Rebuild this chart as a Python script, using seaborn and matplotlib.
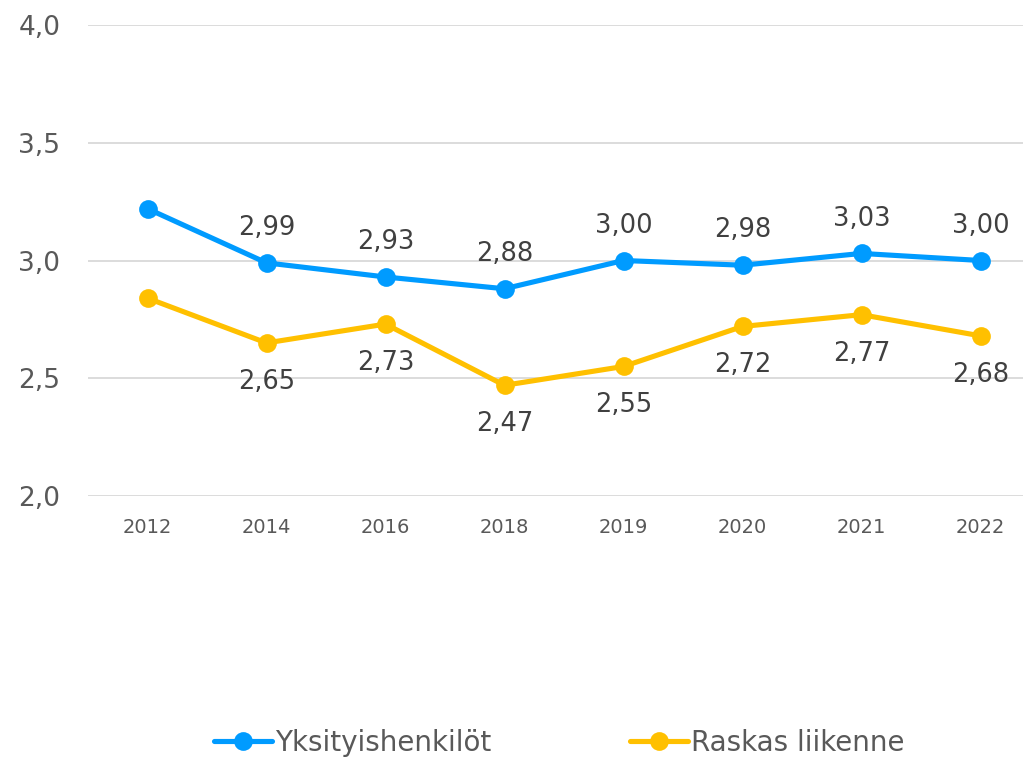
import pandas as pd
import matplotlib.pyplot as plt
import seaborn as sns
from matplotlib.ticker import FuncFormatter

years = ['2012', '2014', '2016', '2018', '2019', '2020', '2021', '2022']
yksityis = [3.22, 2.99, 2.93, 2.88, 3.00, 2.98, 3.03, 3.00]
raskas = [2.84, 2.65, 2.73, 2.47, 2.55, 2.72, 2.77, 2.68]
series_names = ['Yksityishenkilöt', 'Raskas liikenne']
colors = ['#009BFF', '#FFC000']

df = pd.DataFrame({
    'Vuosi': years * 2,
    'Arvo': yksityis + raskas,
    'Sarja': [series_names[0]] * len(years) + [series_names[1]] * len(years),
})

sns.set_style('white')
plt.rcParams['font.family'] = ['DejaVu Sans']

fig = plt.figure(figsize=(10.23, 7.59), dpi=100)
ax = fig.add_axes([88 / 1023, 1 - 496 / 759, 952 / 1023, 471 / 759])

sns.lineplot(data=df, x='Vuosi', y='Arvo', hue='Sarja', palette=colors,
             marker='o', markersize=13.5, markeredgewidth=0, linewidth=3.7,
             sort=False, ax=ax, legend=True)

ax.set_xlim(-0.5, len(years) - 0.5)
ax.set_ylim(2.0, 4.0)
ax.set_yticks([2.0, 2.5, 3.0, 3.5, 4.0])
ax.yaxis.set_major_formatter(FuncFormatter(lambda v, p: f'{v:.1f}'.replace('.', ',')))
ax.grid(axis='y', color='#d9d9d9', linewidth=1.3)
ax.set_axisbelow(True)
for s in ax.spines.values():
    s.set_visible(False)
ax.set_xlabel('')
ax.set_ylabel('')
ax.tick_params(axis='y', length=0, pad=20, labelsize=19, labelcolor='#595959')
ax.tick_params(axis='x', length=0, pad=16, labelsize=14, labelcolor='#595959')

# data labels (first year has no label)
fmt = lambda v: f'{v:.2f}'.replace('.', ',')
for i in range(1, len(years)):
    ax.annotate(fmt(yksityis[i]), (i, yksityis[i]), xytext=(0, 25),
                textcoords='offset points', ha='center', va='center',
                fontsize=18.5, color='#404040')
    ax.annotate(fmt(raskas[i]), (i, raskas[i]), xytext=(0, -28),
                textcoords='offset points', ha='center', va='center',
                fontsize=18.5, color='#404040')

handles, labels = ax.get_legend_handles_labels()
ax.get_legend().remove()
fig.legend(handles, labels, loc='center', bbox_to_anchor=(559 / 1023, 1 - 743 / 759),
           ncol=2, frameon=False, fontsize=20, labelcolor='#595959',
           handlelength=2.1, handletextpad=0.1, columnspacing=5.0)

fig.savefig('out.png', dpi=100)
